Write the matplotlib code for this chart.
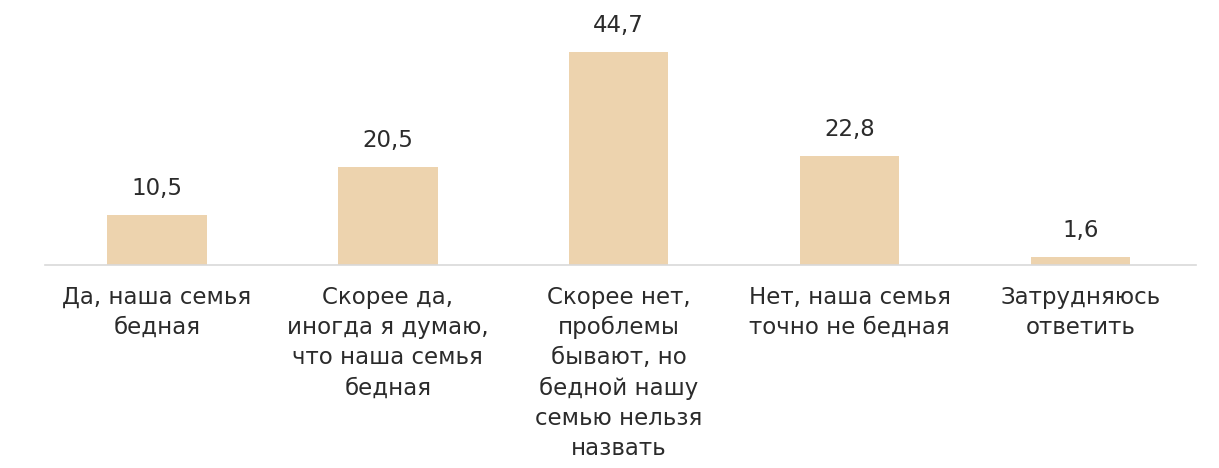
import matplotlib.pyplot as plt

categories = [
    "Да, наша семья\nбедная",
    "Скорее да,\nиногда я думаю,\nчто наша семья\nбедная",
    "Скорее нет,\nпроблемы\nбывают, но\nбедной нашу\nсемью нельзя\nназвать",
    "Нет, наша семья\nточно не бедная",
    "Затрудняюсь\nответить",
]
values = [10.5, 20.5, 44.7, 22.8, 1.6]
value_labels = ["10,5", "20,5", "44,7", "22,8", "1,6"]

plt.rcParams['font.family'] = ['DejaVu Sans']

fig = plt.figure(figsize=(12.19, 4.68), dpi=100)
ax = fig.add_axes([0.037, 0.434, 0.944, 0.509])

x = range(len(values))
ax.bar(x, values, width=0.43, color='#EDD3AE', zorder=2)
for xi, v, lab in zip(x, values, value_labels):
    ax.annotate(lab, (xi, v), xytext=(0, 11), textcoords='offset points',
                ha='center', va='bottom', fontsize=16.5, color='#2b2b2b')

ax.set_xlim(-0.485, 4.5)
ax.set_ylim(0, 50)
ax.set_xticks(list(x))
ax.set_xticklabels(categories, fontsize=16.5, color='#2b2b2b', linespacing=1.4)
ax.tick_params(axis='x', length=0, pad=15)
ax.set_yticks([])
for s in ('top', 'right', 'left'):
    ax.spines[s].set_visible(False)
ax.spines['bottom'].set_color('#D9D9D9')
ax.spines['bottom'].set_linewidth(1.2)

fig.savefig('out.png', dpi=100)
